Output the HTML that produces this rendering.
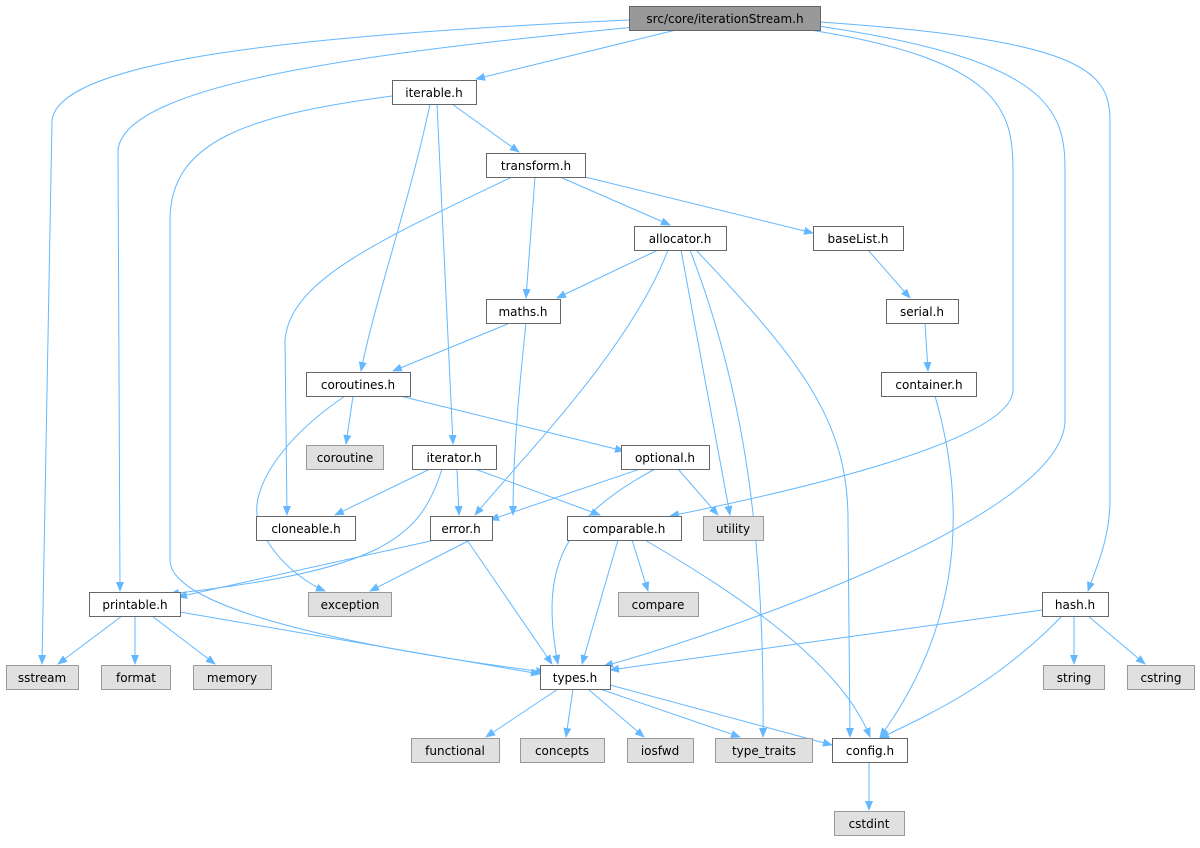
<!DOCTYPE html>
<html><head><meta charset="utf-8"><style>
html,body{margin:0;padding:0;background:#fff;}
svg text{font-family:"DejaVu Sans","Liberation Sans",sans-serif;font-size:12px;text-anchor:middle;fill:#000;}
.n rect{fill:#fff;stroke:#666;stroke-width:1;}
.g rect{fill:#e0e0e0;stroke:#999;stroke-width:1;}
.e{fill:none;stroke:#63b8ff;stroke-width:1;}
</style></head><body>
<svg width="1200" height="843" viewBox="0 0 1200 843" xmlns="http://www.w3.org/2000/svg">
<defs><marker id="a" markerWidth="10" markerHeight="8" refX="9" refY="4" orient="auto" markerUnits="userSpaceOnUse"><path d="M0,0 L10,4 L0,8 z" fill="#63b8ff"/></marker></defs>
<g marker-end="url(#a)">
<path class="e" d="M676,30 L476,79"/>
<path class="e" d="M629,20 C300,35 60,60 52,120 L42,664"/>
<path class="e" d="M635,27 C400,50 125,80 118,150 L120,591"/>
<path class="e" d="M810,30 C1000,60 1013,110 1013,170 L1013,390 C1013,440 800,490 670,516"/>
<path class="e" d="M818,26 C1050,60 1065,110 1065,170 L1065,420 C1065,520 700,640 604,666"/>
<path class="e" d="M820,22 C1080,40 1110,70 1110,120 L1110,500 C1110,540 1095,570 1088,591"/>
<path class="e" d="M452,104 L519,152"/>
<path class="e" d="M430,104 C410,200 375,300 361,371"/>
<path class="e" d="M437,104 L453,444"/>
<path class="e" d="M392,96 C250,115 170,140 170,220 L170,560 C170,620 450,660 545,672"/>
<path class="e" d="M560,177 L670,225"/>
<path class="e" d="M585,177 L813,233"/>
<path class="e" d="M535,177 L526,298"/>
<path class="e" d="M512,177 C380,240 290,280 285,340 L287,515"/>
<path class="e" d="M658,250 L557,298"/>
<path class="e" d="M668,250 C630,350 520,460 475,515"/>
<path class="e" d="M681,250 L730,515"/>
<path class="e" d="M690,250 C740,380 765,520 763,737"/>
<path class="e" d="M696,250 C800,360 848,420 848,520 L850,737"/>
<path class="e" d="M868,250 L910,298"/>
<path class="e" d="M925,323 L928,371"/>
<path class="e" d="M935,396 C965,500 965,620 880,737"/>
<path class="e" d="M510,323 L393,371"/>
<path class="e" d="M526,323 C520,380 513,450 513,515"/>
<path class="e" d="M353,396 L346,444"/>
<path class="e" d="M400,396 L624,451"/>
<path class="e" d="M345,396 C280,440 250,490 258,520 C270,560 310,585 325,591"/>
<path class="e" d="M430,469 L335,515"/>
<path class="e" d="M457,469 L459,515"/>
<path class="e" d="M475,469 L600,515"/>
<path class="e" d="M442,469 C420,540 380,570 170,594"/>
<path class="e" d="M640,469 L490,520"/>
<path class="e" d="M678,469 L718,515"/>
<path class="e" d="M655,469 C560,520 540,570 558,664"/>
<path class="e" d="M435,540 L178,597"/>
<path class="e" d="M470,540 L370,591"/>
<path class="e" d="M467,540 L552,664"/>
<path class="e" d="M632,540 L648,591"/>
<path class="e" d="M618,540 L582,664"/>
<path class="e" d="M645,540 C730,590 840,660 870,737"/>
<path class="e" d="M122,616 L58,664"/>
<path class="e" d="M135,616 L135,664"/>
<path class="e" d="M152,616 L215,664"/>
<path class="e" d="M180,612 L540,674"/>
<path class="e" d="M1042,610 L610,670"/>
<path class="e" d="M1074,616 L1074,664"/>
<path class="e" d="M1088,616 L1145,664"/>
<path class="e" d="M1062,616 C1000,680 940,710 880,738"/>
<path class="e" d="M558,689 L486,737"/>
<path class="e" d="M573,689 L566,737"/>
<path class="e" d="M588,689 L644,737"/>
<path class="e" d="M600,689 L740,737"/>
<path class="e" d="M610,685 L832,745"/>
<path class="e" d="M869,762 L869,810"/>
</g>
<g class="n"><rect x="629.5" y="6.5" width="191" height="24" style="fill:#999;stroke:#666"/><text x="725" y="23">src/core/iterationStream.h</text></g>
<g class="n"><rect x="392.5" y="80.5" width="84" height="24"/><text x="434" y="97">iterable.h</text></g>
<g class="n"><rect x="486.5" y="153.5" width="99" height="24"/><text x="536" y="170">transform.h</text></g>
<g class="n"><rect x="634.5" y="226.5" width="92" height="24"/><text x="680" y="243">allocator.h</text></g>
<g class="n"><rect x="813.5" y="226.5" width="90" height="24"/><text x="858" y="243">baseList.h</text></g>
<g class="n"><rect x="486.5" y="299.5" width="74" height="24"/><text x="523" y="316">maths.h</text></g>
<g class="n"><rect x="886.5" y="299.5" width="72" height="24"/><text x="922" y="316">serial.h</text></g>
<g class="n"><rect x="306.5" y="372.5" width="104" height="24"/><text x="358" y="389">coroutines.h</text></g>
<g class="n"><rect x="881.5" y="372.5" width="95" height="24"/><text x="929" y="389">container.h</text></g>
<g class="g"><rect x="306.5" y="445.5" width="77" height="24"/><text x="345" y="462">coroutine</text></g>
<g class="n"><rect x="412.5" y="445.5" width="84" height="24"/><text x="454" y="462">iterator.h</text></g>
<g class="n"><rect x="621.5" y="445.5" width="88" height="24"/><text x="665" y="462">optional.h</text></g>
<g class="n"><rect x="256.5" y="516.5" width="99" height="24"/><text x="306" y="533">cloneable.h</text></g>
<g class="n"><rect x="430.5" y="516.5" width="62" height="24"/><text x="461" y="533">error.h</text></g>
<g class="n"><rect x="567.5" y="516.5" width="114" height="24"/><text x="624" y="533">comparable.h</text></g>
<g class="g"><rect x="703.5" y="516.5" width="60" height="24"/><text x="733" y="533">utility</text></g>
<g class="n"><rect x="89.5" y="592.5" width="91" height="24"/><text x="135" y="609">printable.h</text></g>
<g class="g"><rect x="308.5" y="592.5" width="83" height="24"/><text x="350" y="609">exception</text></g>
<g class="g"><rect x="618.5" y="592.5" width="80" height="24"/><text x="658" y="609">compare</text></g>
<g class="n"><rect x="1042.5" y="592.5" width="66" height="24"/><text x="1075" y="609">hash.h</text></g>
<g class="g"><rect x="6.5" y="665.5" width="72" height="24"/><text x="42" y="682">sstream</text></g>
<g class="g"><rect x="101.5" y="665.5" width="69" height="24"/><text x="136" y="682">format</text></g>
<g class="g"><rect x="193.5" y="665.5" width="78" height="24"/><text x="232" y="682">memory</text></g>
<g class="n"><rect x="540.5" y="665.5" width="70" height="24"/><text x="575" y="682">types.h</text></g>
<g class="g"><rect x="1043.5" y="665.5" width="61" height="24"/><text x="1074" y="682">string</text></g>
<g class="g"><rect x="1127.5" y="665.5" width="67" height="24"/><text x="1161" y="682">cstring</text></g>
<g class="g"><rect x="411.5" y="738.5" width="88" height="24"/><text x="455" y="755">functional</text></g>
<g class="g"><rect x="520.5" y="738.5" width="84" height="24"/><text x="562" y="755">concepts</text></g>
<g class="g"><rect x="627.5" y="738.5" width="66" height="24"/><text x="660" y="755">iosfwd</text></g>
<g class="g"><rect x="715.5" y="738.5" width="97" height="24"/><text x="764" y="755">type_traits</text></g>
<g class="n"><rect x="832.5" y="738.5" width="75" height="24"/><text x="870" y="755">config.h</text></g>
<g class="g"><rect x="834.5" y="811.5" width="70" height="24"/><text x="869" y="828">cstdint</text></g>
</svg>
</body></html>
